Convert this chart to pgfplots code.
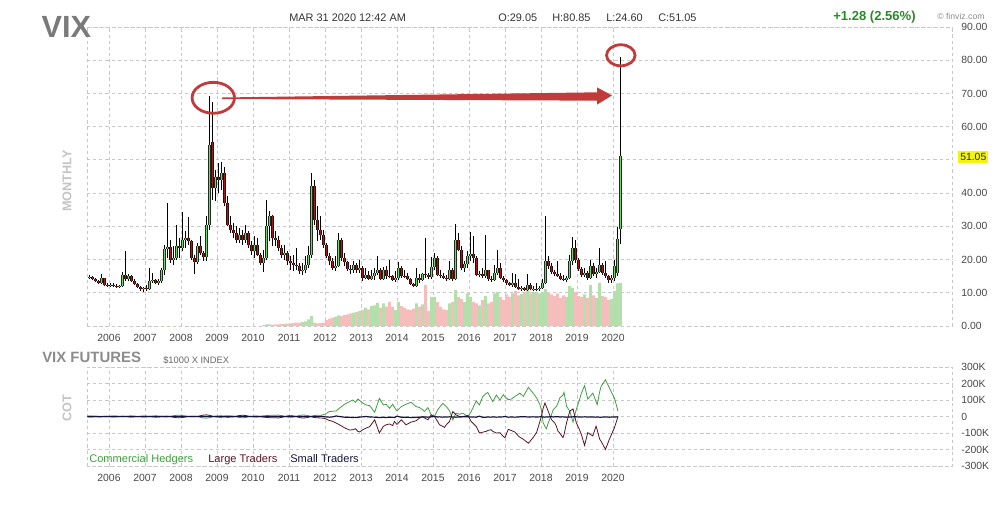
\documentclass[border=0pt]{standalone}
\usepackage{pgfplots}
\pgfplotsset{compat=1.18}
\usepackage{pgfplotstable}
\usepackage{fontspec}
\setmainfont{Liberation Sans}
\definecolor{gridc}{HTML}{C8C8C8}
\definecolor{labc}{HTML}{474747}
\definecolor{upfill}{HTML}{78D470}
\definecolor{upedge}{HTML}{1A301A}
\definecolor{dnfill}{HTML}{9E1C1C}
\definecolor{dnedge}{HTML}{380808}
\definecolor{volg}{HTML}{B2DFAA}
\definecolor{volr}{HTML}{F6BDBD}
\definecolor{annred}{HTML}{C23B3B}
\definecolor{comg}{HTML}{3F9F3F}
\definecolor{lrgr}{HTML}{5C1424}
\definecolor{smln}{HTML}{14143A}
\definecolor{pctg}{HTML}{2A8A2A}
\definecolor{ttlg}{HTML}{7A7A7A}
\definecolor{sideg}{HTML}{C4C4C4}
\definecolor{hl}{HTML}{F4F414}

\pgfplotstableread{
yr m o h l c v
2005 6 14.4 15.4 14.0 14.8 0
2005 7 14.8 15.0 13.7 14.0 0
2005 8 14.0 14.5 13.3 13.6 0
2005 9 13.6 13.9 12.6 12.9 0
2005 10 12.9 15.6 12.7 14.3 0
2005 11 14.3 14.5 12.0 12.3 0
2005 12 12.3 12.8 11.8 12.1 0
2006 1 12.1 12.9 11.6 12.4 0
2006 2 12.4 12.8 11.7 12.0 0
2006 3 12.0 12.5 11.5 11.8 0
2006 4 11.8 12.4 11.3 11.9 0
2006 5 11.9 16.3 11.6 15.5 0
2006 6 15.5 22.5 13.5 14.0 0
2006 7 14.0 15.8 13.4 15.2 0
2006 8 15.2 15.5 13.2 13.6 0
2006 9 13.6 14.0 12.3 12.6 0
2006 10 12.6 12.9 11.4 11.8 0
2006 11 11.8 12.0 10.6 11.0 0
2006 12 11.0 11.8 10.3 11.4 0
2007 1 11.4 12.4 10.6 11.2 0
2007 2 11.2 17.6 10.8 13.5 0
2007 3 13.5 16.0 12.8 13.8 0
2007 4 13.8 14.2 12.6 13.0 0
2007 5 13.0 14.0 12.4 13.5 0
2007 6 13.5 17.6 13.0 16.8 0
2007 7 16.8 24.5 15.5 23.2 0
2007 8 23.2 37.0 20.5 23.8 0
2007 9 23.8 26.0 19.0 19.8 0
2007 10 19.8 24.0 18.5 20.5 0
2007 11 20.5 30.5 19.8 24.0 0
2007 12 24.0 26.5 20.5 23.5 0
2008 1 23.5 34.4 22.5 26.0 0
2008 2 26.0 28.5 23.5 26.5 0
2008 3 26.5 32.9 24.5 25.5 0
2008 4 25.5 26.0 19.8 20.5 0
2008 5 20.5 21.5 15.8 19.2 0
2008 6 19.2 25.0 18.8 24.2 0
2008 7 24.2 27.0 21.5 22.0 0
2008 8 22.0 22.5 19.5 20.8 0
2008 9 20.8 33.0 19.5 30.3 0
2008 10 30.3 69.2 29.0 54.5 0
2008 11 55.5 67.5 38.0 41.5 0
2008 12 41.5 47.0 37.5 45.0 0
2009 1 45.0 49.0 40.0 44.0 0
2009 2 44.0 49.5 41.0 46.0 0
2009 3 46.0 48.0 36.0 37.0 0
2009 4 37.0 39.0 30.0 30.5 0
2009 5 30.5 33.0 28.0 29.0 0
2009 6 29.0 31.0 26.5 28.0 0
2009 7 28.0 30.0 25.0 26.0 0
2009 8 26.0 29.5 25.0 27.5 0
2009 9 27.5 29.0 24.5 26.0 0
2009 10 26.0 30.5 25.0 28.0 0
2009 11 28.0 28.5 23.5 24.5 0
2009 12 24.5 25.5 21.5 22.5 0
2010 1 22.5 27.0 20.5 24.5 0
2010 2 24.5 26.5 21.0 21.5 0
2010 3 21.5 22.0 18.5 19.0 0
2010 4 19.0 23.0 16.3 20.5 0.3
2010 5 20.5 37.9 19.8 30.0 0.5
2010 6 30.0 34.5 25.5 33.0 0.5
2010 7 33.0 33.5 24.0 26.5 0.4
2010 8 26.5 28.5 24.0 26.0 0.5
2010 9 26.0 27.0 22.5 23.5 0.5
2010 10 23.5 24.5 20.5 21.5 0.6
2010 11 21.5 24.5 20.0 22.0 0.6
2010 12 22.0 22.5 18.5 19.5 0.7
2011 1 19.5 21.0 17.0 19.0 0.8
2011 2 19.0 21.5 16.5 18.5 0.9
2011 3 18.5 23.5 16.8 18.2 1.0
2011 4 18.2 19.0 15.8 16.5 1.0
2011 5 16.5 19.0 15.5 16.8 1.2
2011 6 16.8 21.0 16.0 18.5 1.4
2011 7 18.5 24.0 17.5 21.5 2.0
2011 8 21.5 46.0 20.5 42.0 3.0
2011 9 42.0 44.0 30.5 32.0 1.0
2011 10 32.0 36.0 25.5 29.0 0.8
2011 11 29.0 33.0 26.0 27.5 0.9
2011 12 27.5 29.0 23.5 24.5 1.0
2012 1 24.5 25.0 20.5 21.0 1.8
2012 2 21.0 22.0 18.5 19.5 2.2
2012 3 19.5 20.5 16.8 17.5 2.5
2012 4 17.5 21.0 16.5 18.0 2.8
2012 5 18.0 27.9 17.8 26.0 3.2
2012 6 26.0 26.5 19.5 20.5 3.0
2012 7 20.5 22.0 18.0 19.2 3.3
2012 8 19.2 19.5 16.5 17.2 3.5
2012 9 17.2 18.5 15.8 17.0 3.8
2012 10 17.0 19.5 16.0 18.5 4.0
2012 11 18.5 19.0 16.0 16.8 4.2
2012 12 16.8 20.0 16.0 17.5 4.5
2013 1 17.5 18.0 13.5 14.5 4.8
2013 2 14.5 17.5 14.0 15.5 5.5
2013 3 15.5 16.5 13.8 14.2 5.0
2013 4 14.2 17.0 13.8 15.2 6.0
2013 5 15.2 17.5 13.8 16.0 6.2
2013 6 16.0 21.0 15.5 17.0 7.0
2013 7 17.0 17.5 13.8 14.2 5.5
2013 8 14.2 17.8 13.8 17.0 6.8
2013 9 17.0 18.0 14.2 15.2 5.8
2013 10 15.2 20.0 14.5 15.0 7.3
2013 11 15.0 15.5 13.5 13.9 5.8
2013 12 13.9 16.5 13.2 14.5 4.8
2014 1 14.5 19.4 13.8 17.5 7.3
2014 2 17.5 18.0 14.5 15.2 6.0
2014 3 15.2 17.0 14.5 15.0 5.5
2014 4 15.0 16.0 13.8 14.2 5.0
2014 5 14.2 14.5 12.3 12.6 4.8
2014 6 12.6 13.0 11.6 12.0 5.2
2014 7 12.0 17.5 11.8 14.5 6.8
2014 8 14.5 15.8 13.0 13.8 5.8
2014 9 13.8 16.0 13.4 15.8 6.5
2014 10 15.8 26.4 14.5 15.5 12.3
2014 11 15.5 16.0 14.0 14.8 4.5
2014 12 14.8 20.8 14.2 17.8 8.8
2015 1 17.8 22.0 17.0 20.5 8.8
2015 2 20.5 21.0 15.0 15.5 7.2
2015 3 15.5 17.0 14.5 15.2 5.8
2015 4 15.2 16.0 14.0 14.5 5.0
2015 5 14.5 15.5 13.5 14.0 4.8
2015 6 14.0 19.5 13.8 16.8 6.8
2015 7 16.8 17.5 13.5 14.2 7.3
2015 8 14.2 30.7 13.8 26.0 10.8
2015 9 26.0 28.0 22.5 23.0 8.8
2015 10 23.0 24.0 17.0 17.5 8.2
2015 11 17.5 19.5 16.2 18.8 7.2
2015 12 18.8 22.5 17.5 21.2 9.8
2016 1 21.2 28.4 19.5 21.8 8.8
2016 2 21.8 27.0 19.0 20.5 7.3
2016 3 20.5 21.0 15.0 15.5 6.8
2016 4 15.5 16.5 14.8 15.6 6.2
2016 5 15.6 17.5 14.5 15.0 7.8
2016 6 15.0 27.4 14.5 16.8 9.0
2016 7 16.8 17.0 13.5 14.2 6.8
2016 8 14.2 15.0 13.3 13.8 7.3
2016 9 13.8 18.5 13.5 16.0 9.8
2016 10 16.0 23.0 15.5 17.5 10.2
2016 11 17.5 19.0 14.0 14.5 8.8
2016 12 14.5 15.0 13.2 13.8 7.8
2017 1 13.8 14.0 12.2 12.8 9.5
2017 2 12.8 13.2 12.0 12.4 8.8
2017 3 12.4 16.0 11.8 12.9 9.8
2017 4 12.9 15.8 11.5 11.8 10.5
2017 5 11.8 14.0 10.8 11.2 9.2
2017 6 11.2 12.0 10.6 11.5 9.6
2017 7 11.5 11.8 10.5 10.9 10.2
2017 8 10.9 15.8 10.6 12.2 10.8
2017 9 12.2 12.8 10.8 11.0 9.8
2017 10 11.0 12.0 10.5 11.2 10.3
2017 11 11.2 12.8 10.4 11.0 10.0
2017 12 11.0 12.0 10.6 11.5 9.8
2018 1 11.5 14.0 11.0 12.8 10.3
2018 2 12.8 33.2 12.5 19.5 11.2
2018 3 19.5 21.0 17.2 18.0 10.2
2018 4 18.0 19.0 15.8 16.3 9.5
2018 5 16.3 17.0 15.0 15.6 9.0
2018 6 15.6 19.5 14.8 15.0 9.8
2018 7 15.0 16.0 13.8 14.2 8.5
2018 8 14.2 15.5 13.5 13.8 9.2
2018 9 13.8 15.0 13.3 14.5 8.8
2018 10 14.5 21.5 14.0 19.5 12.0
2018 11 19.5 26.7 18.5 23.5 11.5
2018 12 23.5 26.0 19.0 20.0 10.2
2019 1 20.0 20.5 16.5 17.2 9.0
2019 2 17.2 17.8 14.8 15.5 8.8
2019 3 15.5 17.5 14.8 16.0 9.5
2019 4 16.0 16.5 13.8 14.5 8.5
2019 5 14.5 19.8 14.2 18.0 12.3
2019 6 18.0 19.0 15.0 15.6 9.2
2019 7 15.6 17.5 14.5 16.4 8.5
2019 8 16.4 23.4 16.0 18.5 13.0
2019 9 18.5 19.0 15.5 16.0 9.0
2019 10 16.0 19.5 14.5 15.0 8.8
2019 11 15.0 15.5 13.0 13.8 7.8
2019 12 13.8 15.5 13.0 14.3 8.2
2020 1 14.3 19.9 13.5 18.2 10.5
2020 2 16.0 29.9 15.0 26.1 12.8
2020 3 29.05 80.85 24.60 51.05 13.0
}\vix

\pgfplotstableread{
x com lrg sml
2005.40 2 -2 0
2005.50 3 -3 0
2005.60 1 -2 1
2005.70 2 -1 -1
2005.80 0 1 -1
2005.90 2 -2 0
2006.00 1 -1 0
2006.10 3 -3 0
2006.20 2 -3 1
2006.30 0 0 0
2006.40 -2 2 0
2006.50 1 -1 0
2006.60 3 -4 1
2006.70 2 -2 0
2006.80 0 1 -1
2006.90 2 -2 0
2007.00 3 -3 0
2007.10 1 -1 0
2007.20 2 -2 0
2007.30 4 -4 0
2007.40 3 -2 -1
2007.50 1 -1 0
2007.60 2 -3 1
2007.70 0 0 0
2007.80 5 -5 0
2007.90 8 -8 0
2008.00 7 -7 0
2008.10 4 -4 0
2008.20 0 0 0
2008.30 2 -2 0
2008.40 1 -1 0
2008.50 -2 2 0
2008.60 -8 8 0
2008.70 -10 10 0
2008.80 -7 7 0
2008.90 0 0 0
2009.00 3 -3 0
2009.10 4 -4 0
2009.20 3 -3 0
2009.30 5 -4 -1
2009.40 3 -3 0
2009.50 1 -1 0
2009.60 -5 5 0
2009.70 -8 8 0
2009.80 -6 6 0
2009.90 0 0 0
2010.00 2 -2 0
2010.10 3 -3 0
2010.20 1 -1 0
2010.30 4 -4 0
2010.40 6 -6 0
2010.50 8 -8 0
2010.60 7 -7 0
2010.70 9 -9 0
2010.80 5 -5 0
2010.90 0 0 0
2011.00 -5 5 0
2011.10 -4 4 0
2011.20 0 0 0
2011.30 7 -7 0
2011.40 9 -9 0
2011.50 7 -7 0
2011.60 0 0 0
2011.70 6 -6 0
2011.80 8 -8 0
2011.90 8 -9 1
2012.00 14 -12 -2
2012.12 30 -24 -4
2012.22 32 -30 -2
2012.31 34 -40 3
2012.40 50 -50 0
2012.54 74 -68 -4
2012.68 90 -82 -5
2012.77 100 -80 -6
2012.85 86 -74 -5
2012.91 106 -90 -6
2012.96 98 -94 -3
2013.05 82 -80 -2
2013.14 70 -70 0
2013.24 66 -62 -3
2013.38 26 -20 -4
2013.51 110 -100 -6
2013.62 70 -60 -5
2013.70 74 -50 -6
2013.79 50 -45 -4
2013.88 74 -55 -5
2013.93 55 -30 -6
2014.00 34 -48 2
2014.12 60 -20 -5
2014.25 74 -50 -4
2014.39 86 -34 -6
2014.53 60 -26 -5
2014.62 55 -10 -4
2014.72 40 0 -3
2014.76 30 -8 -3
2014.86 54 -20 -4
2014.95 10 10 -2
2015.04 0 0 0
2015.13 40 -30 -3
2015.18 55 -50 -2
2015.27 80 -60 -4
2015.32 70 -66 -3
2015.37 60 -50 -3
2015.46 35 -30 -2
2015.55 -20 30 -3
2015.64 20 10 -4
2015.74 14 0 -3
2015.83 20 0 -2
2015.97 0 6 -2
2016.06 30 -30 -3
2016.20 94 -60 -4
2016.29 70 -100 2
2016.38 120 -95 -5
2016.48 140 -90 -4
2016.52 146 -85 -3
2016.61 110 -80 -4
2016.66 90 -90 -2
2016.76 130 -100 -4
2016.86 100 -98 -3
2016.95 132 -120 -2
2017.00 120 -128 0
2017.09 102 -78 -4
2017.18 106 -85 -3
2017.28 122 -95 -4
2017.37 135 -118 -3
2017.41 142 -125 -2
2017.51 122 -138 -1
2017.65 177 -162 -3
2017.78 142 -128 -2
2017.88 112 -95 -3
2017.97 72 -30 -2
2018.01 40 0 -2
2018.06 -38 50 -3
2018.11 -60 82 -4
2018.15 -74 60 -2
2018.20 -40 32 -3
2018.24 -18 10 -2
2018.29 10 -18 -1
2018.34 42 -30 -3
2018.38 50 -38 -2
2018.43 62 -60 -2
2018.47 80 -88 -1
2018.52 112 -100 -3
2018.61 130 -128 -2
2018.64 146 -110 -3
2018.71 62 -38 -4
2018.80 32 32 -3
2018.89 -34 46 -2
2018.98 42 -38 -2
2019.07 102 -80 -3
2019.12 140 -108 -3
2019.21 187 -175 -2
2019.30 106 -98 -3
2019.44 142 -118 -3
2019.53 90 -58 -4
2019.56 72 -80 -3
2019.63 150 -138 -4
2019.67 183 -150 -4
2019.79 223 -199 -3
2019.90 173 -138 -4
2020.04 112 -68 -3
2020.14 32 0 -2
}\cot

\begin{document}
\begin{tikzpicture}
\path[use as bounding box] (0,0) rectangle (756pt,-383.25pt);

\pgfplotsset{
  finstyle/.style={
    scale only axis, width=648.75pt,
    xmin=2005.389, xmax=2029.417,
    axis line style={draw=gridc, line width=0.6pt, dash pattern=on 2.4pt off 2.2pt},
    grid=major,
    grid style={draw=gridc, line width=0.6pt, dash pattern=on 2.4pt off 2.2pt},
    major tick length=0pt,
    xtick={2006,2007,2008,2009,2010,2011,2012,2013,2014,2015,2016,2017,2018,2019,2020},
    xticklabels={2006,2007,2008,2009,2010,2011,2012,2013,2014,2015,2016,2017,2018,2019,2020},
    tick label style={font=\fontsize{7.8}{9}\selectfont, text=labc},
    xticklabel style={yshift=-2.5pt},
    yticklabel pos=right,
    yticklabel style={xshift=3.5pt},
  }
}

% ---------- main VIX panel ----------
\begin{axis}[finstyle,
  at={(65.25pt,-244.5pt)}, anchor=south west,
  height=224.25pt,
  ymin=0, ymax=90,
  ytick={0,10,20,30,40,50,60,70,80,90},
  yticklabels={0.00,10.00,20.00,30.00,40.00,{},60.00,70.00,80.00,90.00},
]
% volume bars
\addplot[ybar, bar shift=0pt, bar width=2.2pt, fill=volg, draw=none,
  restrict expr to domain={\thisrow{c}-\thisrow{o}}{0:1000}]
  table[x expr={\thisrow{yr}+(\thisrow{m}-0.5)/12}, y=v] {\vix};
\addplot[ybar, bar shift=0pt, bar width=2.2pt, fill=volr, draw=none,
  restrict expr to domain={\thisrow{c}-\thisrow{o}}{-1000:-0.001}]
  table[x expr={\thisrow{yr}+(\thisrow{m}-0.5)/12}, y=v] {\vix};
% wicks
\addplot[draw=none, mark=none,
  error bars/.cd, y dir=plus, y explicit, error mark=none,
  error bar style={draw=black, line width=0.65pt, solid}]
  table[x expr={\thisrow{yr}+(\thisrow{m}-0.5)/12}, y=l, y error expr={\thisrow{h}-\thisrow{l}}] {\vix};
% up bodies
\addplot[draw=none, mark=none,
  restrict expr to domain={\thisrow{c}-\thisrow{o}}{0:1000},
  error bars/.cd, y dir=plus, y explicit, error mark=none,
  error bar style={draw=upedge, line width=2.4pt, line cap=butt, solid}]
  table[x expr={\thisrow{yr}+(\thisrow{m}-0.5)/12}, y=o, y error expr={\thisrow{c}-\thisrow{o}}] {\vix};
\addplot[draw=none, mark=none,
  restrict expr to domain={\thisrow{c}-\thisrow{o}}{0:1000},
  error bars/.cd, y dir=plus, y explicit, error mark=none,
  error bar style={draw=upfill, line width=1.45pt, line cap=butt, solid}]
  table[x expr={\thisrow{yr}+(\thisrow{m}-0.5)/12}, y=o, y error expr={\thisrow{c}-\thisrow{o}}] {\vix};
% down bodies
\addplot[draw=none, mark=none,
  restrict expr to domain={\thisrow{c}-\thisrow{o}}{-1000:-0.001},
  error bars/.cd, y dir=plus, y explicit, error mark=none,
  error bar style={draw=dnedge, line width=2.4pt, line cap=butt, solid}]
  table[x expr={\thisrow{yr}+(\thisrow{m}-0.5)/12}, y=c, y error expr={\thisrow{o}-\thisrow{c}}] {\vix};
\addplot[draw=none, mark=none,
  restrict expr to domain={\thisrow{c}-\thisrow{o}}{-1000:-0.001},
  error bars/.cd, y dir=plus, y explicit, error mark=none,
  error bar style={draw=dnfill, line width=1.45pt, line cap=butt, solid}]
  table[x expr={\thisrow{yr}+(\thisrow{m}-0.5)/12}, y=c, y error expr={\thisrow{o}-\thisrow{c}}] {\vix};
% annotations
\draw[annred, line width=2.1pt] (axis cs:2008.897,68.69) ellipse [x radius=15.9pt, y radius=11.6pt];
\draw[annred, line width=2.1pt] (axis cs:2020.217,81.49) ellipse [x radius=10.7pt, y radius=7.9pt];
\fill[annred] (axis cs:2009.139,68.78) -- (axis cs:2019.556,70.34) -- (axis cs:2019.556,71.84)
  -- (axis cs:2019.972,69.39) -- (axis cs:2019.556,66.63) -- (axis cs:2019.556,67.83)
  -- (axis cs:2009.139,68.32) -- cycle;
\end{axis}

% ---------- COT panel ----------
\begin{axis}[finstyle,
  at={(65.25pt,-349.5pt)}, anchor=south west,
  height=74.25pt,
  ymin=-300, ymax=300,
  ytick={-300,-200,-100,0,100,200,300},
  yticklabels={-300K,-200K,-100K,0,100K,200K,300K},
]
\addplot[comg, line width=0.6pt, mark=none] table[x=x, y=com] {\cot};
\addplot[lrgr, line width=0.6pt, mark=none] table[x=x, y=lrg] {\cot};
\addplot[smln, line width=0.9pt, mark=none] table[x=x, y=sml] {\cot};
\end{axis}

% ---------- texts ----------
\node[anchor=base west, inner sep=0, text=ttlg, font=\fontsize{23}{23}\selectfont\bfseries] at (31pt,-27.75pt) {VIX};
\node[anchor=base west, inner sep=0, text=black!80, font=\fontsize{8.2}{9}\selectfont] at (216.75pt,-15.75pt) {MAR 31 2020 12:42 AM};
\node[anchor=base west, inner sep=0, text=black!80, font=\fontsize{8.2}{9}\selectfont] at (373.5pt,-15.75pt) {O:29.05};
\node[anchor=base west, inner sep=0, text=black!80, font=\fontsize{8.2}{9}\selectfont] at (414pt,-15.75pt) {H:80.85};
\node[anchor=base west, inner sep=0, text=black!80, font=\fontsize{8.2}{9}\selectfont] at (454.5pt,-15.75pt) {L:24.60};
\node[anchor=base west, inner sep=0, text=black!80, font=\fontsize{8.2}{9}\selectfont] at (493.5pt,-15.75pt) {C:51.05};
\node[anchor=base west, inner sep=0, text=pctg, font=\fontsize{9.8}{11}\selectfont\bfseries] at (624.75pt,-15pt) {+1.28 (2.56\%)};
\node[anchor=base west, inner sep=0, text=black!45, font=\fontsize{6.5}{8}\selectfont] at (702.75pt,-14.25pt) {© finviz.com};
\node[anchor=west, fill=hl, inner xsep=1.5pt, inner ysep=1.5pt, text=black!85, font=\fontsize{7.8}{9}\selectfont] at (718.5pt,-117.75pt) {51.05};
\node[rotate=90, inner sep=0, text=sideg, font=\fontsize{9.5}{10}\selectfont\bfseries] at (50.25pt,-135.75pt) {MONTHLY};
\node[anchor=base west, inner sep=0, text=black!45, font=\fontsize{11.2}{12}\selectfont\bfseries] at (31.5pt,-272pt) {VIX FUTURES};
\node[anchor=base west, inner sep=0, text=black!60, font=\fontsize{7}{8}\selectfont] at (122.25pt,-272.25pt) {\$1000 X INDEX};
\node[rotate=90, inner sep=0, text=sideg, font=\fontsize{9.5}{10}\selectfont\bfseries] at (50.25pt,-306pt) {COT};
\node[anchor=base west, inner sep=0, text=comg, font=\fontsize{8.3}{9}\selectfont] at (66.75pt,-347pt) {Commercial Hedgers};
\node[anchor=base west, inner sep=0, text=lrgr, font=\fontsize{8.3}{9}\selectfont] at (156pt,-347pt) {Large Traders};
\node[anchor=base west, inner sep=0, text=smln, font=\fontsize{8.3}{9}\selectfont] at (217.5pt,-347pt) {Small Traders};
\end{tikzpicture}
\end{document}
